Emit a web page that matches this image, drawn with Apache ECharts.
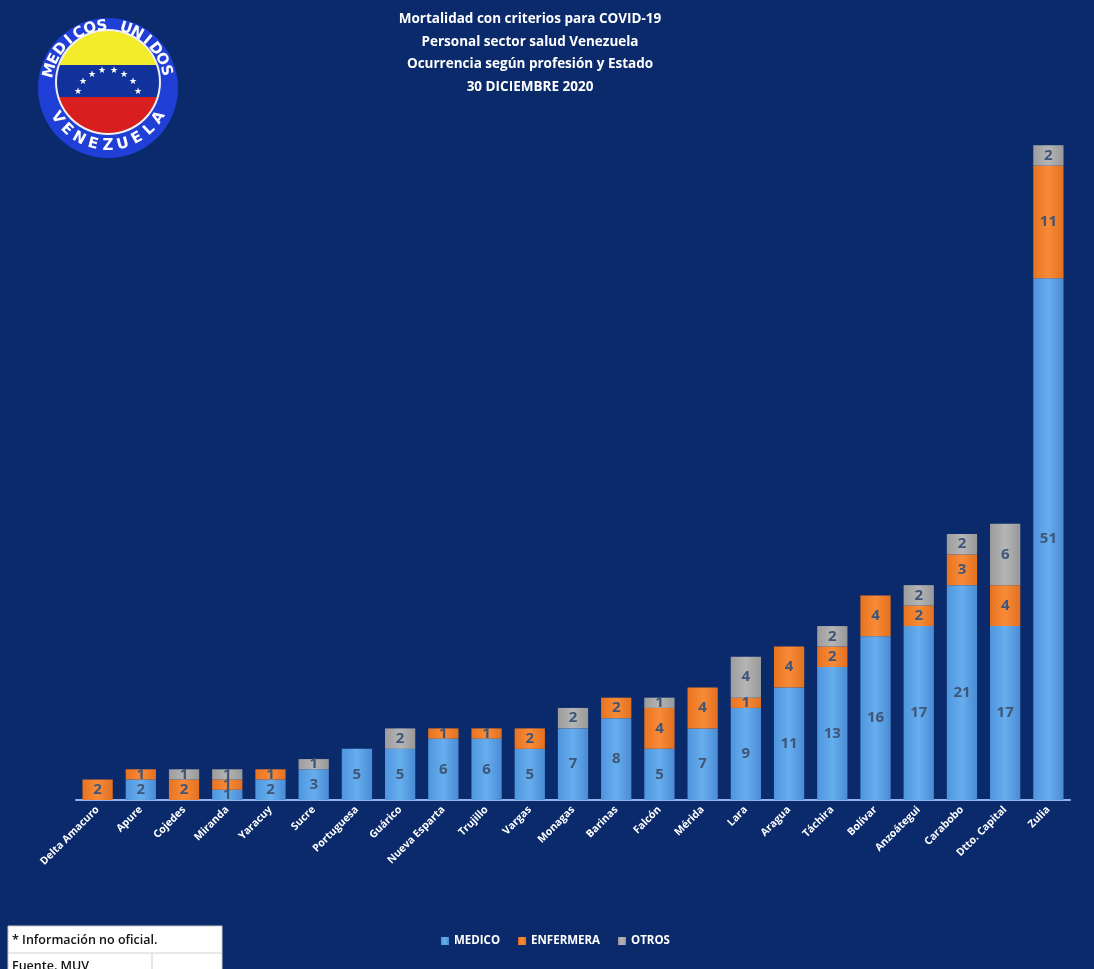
<!DOCTYPE html>
<html><head><meta charset="utf-8">
<script src="https://cdn.jsdelivr.net/npm/echarts@6/dist/echarts.min.js"></script>
<style>html,body{margin:0;padding:0;background:#0b2a6b;}#c{width:1094px;height:969px;}</style>
</head><body><div id="c"></div>
<script>
const categories = ['Delta Amacuro','Apure','Cojedes','Miranda','Yaracuy','Sucre','Portuguesa','Guárico','Nueva Esparta','Trujillo','Vargas','Monagas','Barinas','Falcón','Mérida','Lara','Aragua','Táchira','Bolívar','Anzoátegui','Carabobo','Dtto. Capital','Zulia'];
const medico    = [0,2,0,1,2,3,5,5,6,6,5,7,8,5,7,9,11,13,16,17,21,17,51];
const enfermera = [2,1,2,1,1,0,0,0,1,1,2,0,2,4,4,1,4,2,4,2,3,4,11];
const otros     = [0,0,1,1,0,1,0,2,0,0,0,2,0,1,0,4,0,2,0,2,2,6,2];
const titleLines = ['Mortalidad con criterios para COVID-19','Personal sector salud Venezuela','Ocurrencia según profesión y Estado','30 DICIEMBRE 2020'];

const chart = echarts.init(document.getElementById('c'));
const lbl = {show:true, position:'inside', color:'#3f5679', fontSize:15, fontFamily:'Open Sans', fontWeight:'bold',
  formatter: p => p.value ? p.value : ''};

// logo graphic
const cx = 108, cy = 86;
const logo = [];
logo.push({type:'circle', shape:{cx:cx, cy:cy+2, r:70}, style:{fill:'#1f3fd6'}});
logo.push({type:'circle', shape:{cx:cx, cy:cy-4, r:53}, style:{fill:'#f0f0f0'}});
const clipC = {cx:cx, cy:cy-4, r:51};
logo.push({type:'group', children:[
  {type:'rect', shape:{x:cx-52,y:cy-56,width:104,height:35}, style:{fill:'#f2ec2a'}},
  {type:'rect', shape:{x:cx-52,y:cy-21,width:104,height:32}, style:{fill:'#10329a'}},
  {type:'rect', shape:{x:cx-52,y:cy+11,width:104,height:38}, style:{fill:'#d81e1e'}}
], clipPath:{type:'circle', shape:clipC}});
for (let i=0;i<8;i++){
  const a = Math.PI*(200+i*(140/7))/180;
  logo.push({type:'text', x:cx+32*Math.cos(a), y:cy+16+32*Math.sin(a),
    style:{text:'★', fill:'#ffffff', fontSize:9, align:'center', verticalAlign:'middle'}});
}
function arcText(str, startDeg, endDeg, r, top){
  const n = str.length;
  for (let i=0;i<n;i++){
    const d = startDeg + (endDeg-startDeg)*(n===1?0:i/(n-1));
    const a = d*Math.PI/180;
    const rot = top ? (270-d)*Math.PI/180 : (90-d)*Math.PI/180;
    logo.push({type:'text', x:cx+r*Math.cos(a), y:cy+r*Math.sin(a), rotation:rot,
      style:{text:str[i], fill:'#ffffff', fontSize:15, fontWeight:'bold', fontFamily:'DejaVu Sans', align:'center', verticalAlign:'middle'}});
  }
}
arcText('MEDICOS UNIDOS', 195, 345, 60, true);
arcText('VENEZUELA', 148, 32, 60, false);

const graphics = logo.concat([
  {type:'text', x:530, y:8, style:{text:titleLines.join('\n'), fill:'#ffffff', fontSize:13.5, fontWeight:'bold', fontFamily:'Open Sans', align:'center', verticalAlign:'top', lineHeight:22.5}},
  {type:'rect', shape:{x:8,y:926,width:214,height:60}, style:{fill:'#ffffff', stroke:'#c8c8c8', lineWidth:1}},
  {type:'line', shape:{x1:8,y1:953,x2:222,y2:953}, style:{stroke:'#d0d0d0', lineWidth:1}},
  {type:'line', shape:{x1:152,y1:953,x2:152,y2:969}, style:{stroke:'#d0d0d0', lineWidth:1}},
  {type:'text', x:12, y:940, style:{text:'* Información no oficial.', fill:'#111111', fontSize:12.5, fontFamily:'Open Sans', fontWeight:'600', verticalAlign:'middle'}},
  {type:'text', x:12, y:966, style:{text:'Fuente. MUV', fill:'#111111', fontSize:12.5, fontFamily:'Open Sans', fontWeight:'600', verticalAlign:'middle'}}
]);

chart.setOption({
  backgroundColor:'#0b2a6b',
  animation:false,
  graphic: graphics,
  legend:{data:['MEDICO','ENFERMERA','OTROS'], left:436, top:930, itemWidth:8, itemHeight:8, itemGap:18, icon:'rect',
    textStyle:{color:'#ffffff', fontSize:11.5, fontWeight:'bold', fontFamily:'Open Sans'}},
  grid:{left:76, right:24, top:135, bottom:169},
  xAxis:{type:'category', data:categories,
    axisLine:{lineStyle:{color:'#8db3ea', width:2}}, axisTick:{show:false},
    axisLabel:{interval:0, rotate:45, color:'#ffffff', fontSize:10.5, fontWeight:'bold', fontFamily:'Open Sans', margin:8}},
  yAxis:{type:'value', min:0, max:65, show:false, splitLine:{show:false}},
  series:[
    {name:'MEDICO', type:'bar', stack:'a', data:medico, barWidth:'70%',
      itemStyle:{color:new echarts.graphic.LinearGradient(0,0,1,0,[{offset:0,color:'#4f95dd'},{offset:0.5,color:'#66aeee'},{offset:1,color:'#4b8bd4'}])}, label:lbl},
    {name:'ENFERMERA', type:'bar', stack:'a', data:enfermera,
      itemStyle:{color:new echarts.graphic.LinearGradient(0,0,1,0,[{offset:0,color:'#e8731f'},{offset:0.5,color:'#f88b38'},{offset:1,color:'#e27020'}])}, label:lbl},
    {name:'OTROS', type:'bar', stack:'a', data:otros,
      itemStyle:{color:new echarts.graphic.LinearGradient(0,0,1,0,[{offset:0,color:'#9c9c9c'},{offset:0.5,color:'#b5b5b5'},{offset:1,color:'#989898'}])}, label:lbl}
  ]
});
</script></body></html>
